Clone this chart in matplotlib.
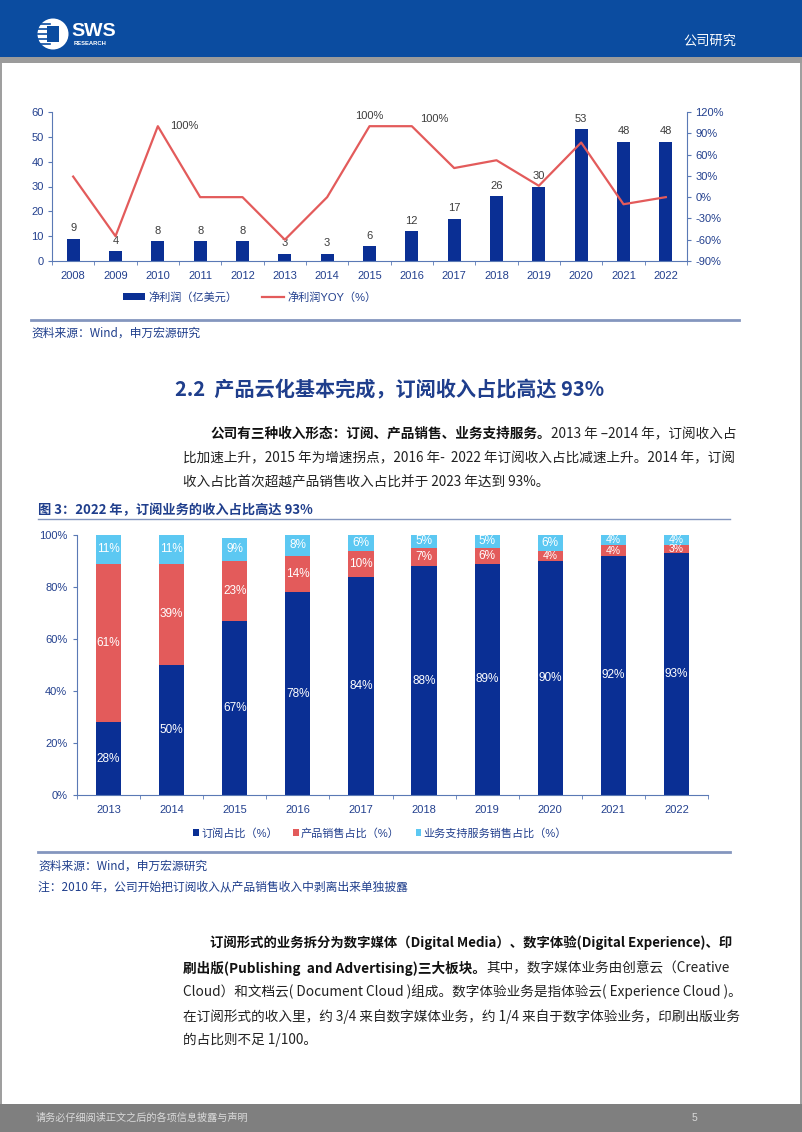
import matplotlib
matplotlib.use("Agg")
import matplotlib.pyplot as plt
from matplotlib.patches import Rectangle, Circle, Patch
from matplotlib.lines import Line2D
import numpy as np

# ---- data ----
years1 = ["2008", "2009", "2010", "2011", "2012", "2013", "2014", "2015",
          "2016", "2017", "2018", "2019", "2020", "2021", "2022"]
net_profit = [9, 4, 8, 8, 8, 3, 3, 6, 12, 17, 26, 30, 53, 48, 48]
profit_yoy = [29, -55, 100, 0, 0, -60, 0, 100, 100, 41, 52, 16, 77, -10, 0]

years2 = ["2013", "2014", "2015", "2016", "2017", "2018", "2019", "2020", "2021", "2022"]
sub_share = [28, 50, 67, 78, 84, 88, 89, 90, 92, 93]
product_share = [61, 39, 23, 14, 10, 7, 6, 4, 4, 3]
service_share = [11, 11, 9, 8, 6, 5, 5, 6, 4, 4]

W, H = 802, 1132
CJK = ["Noto Sans CJK SC", "DejaVu Sans"]
plt.rcParams["font.family"] = ["Liberation Sans", "Noto Sans CJK SC", "DejaVu Sans"]

BLUE = "#0A2F94"
RED = "#E35B5B"
LIGHT = "#5CC8F2"
TICK = "#23408E"
SPINE = "#5A79B5"
HEAD = "#0B4CA0"
TITLE = "#1F3E8C"
TEXT = "#222222"

fig = plt.figure(figsize=(W / 100, H / 100), dpi=100)
bg = fig.add_axes([0, 0, 1, 1], zorder=0)
bg.set_xlim(0, W)
bg.set_ylim(H, 0)
bg.axis("off")
renderer = fig.canvas.get_renderer()

# ---- page frame, header, footer ----
bg.add_patch(Rectangle((0.5, 0.5), W - 1.5, H - 1.5, fc="none", ec="#8C8C8C", lw=1.2))
bg.add_patch(Rectangle((0, 0), W, 57, fc=HEAD, ec="none"))
bg.add_patch(Rectangle((0, 57), W, 6, fc="#9B9B9B", ec="none"))
bg.add_patch(Rectangle((0, 1104), W, H - 1104, fc="#7F7F7F", ec="none"))

# logo
bg.add_patch(Circle((53, 34), 15.5, fc="white", ec="none"))
bg.add_patch(Rectangle((47, 26), 12, 16, fc=HEAD, ec="none"))
for yy in (24, 29, 34, 39, 44):
    bg.plot([38, 50], [yy, yy], color=HEAD, lw=1.2)
bg.text(71, 31, "SWS", color="white", fontsize=14, fontweight="bold", va="center", ha="left")
bg.text(74, 43.5, "RESEARCH", color="white", fontsize=4.2, fontweight="bold", va="center", ha="left")
bg.text(736, 41, "公司研究", color="white", fontsize=9.5, va="center", ha="right", family=CJK)

bg.text(36, 1118, "请务必仔细阅读正文之后的各项信息披露与声明", color="#DADADA", fontsize=7.3,
        va="center", ha="left", family=CJK)
bg.text(694, 1118, "5", color="#DADADA", fontsize=7.5, va="center", ha="center")


def runs(x, y, parts, size=9.8):
    for s, bold in parts:
        t = bg.text(x, y, s, fontsize=size, fontweight="bold" if bold else "normal",
                    va="center", ha="left", family=CJK, color="#111111" if bold else TEXT)
        x += t.get_window_extent(renderer).width


# ---- chart 1: net profit ----
ax1 = fig.add_axes([52 / W, 1 - 261 / H, 635 / W, 149 / H], zorder=2)
ax1.patch.set_alpha(0)
x1 = np.arange(len(years1))
ax1.bar(x1, net_profit, width=0.3, color=BLUE, zorder=2)
for i, v in enumerate(net_profit):
    ax1.annotate(str(v), (i, v), xytext=(0, 4), textcoords="offset points",
                 ha="center", va="bottom", fontsize=8, color="#3C3C3C")
ax1.set_xlim(-0.5, len(years1) - 0.5)
ax1.set_ylim(0, 60)
ax1.set_yticks(range(0, 61, 10))
ax1.set_xticks(x1)
ax1.set_xticklabels(years1)
ax1.set_xticks(np.arange(-0.5, len(years1), 1), minor=True)
ax1.tick_params(axis="x", which="major", length=0, pad=7, labelsize=8, labelcolor=TICK)
ax1.tick_params(axis="x", which="minor", length=3, color=SPINE, direction="out")
ax1.tick_params(axis="y", length=3, color=SPINE, labelsize=8, labelcolor=TICK, pad=3)
for s in ("top", "right"):
    ax1.spines[s].set_visible(False)
for s in ("left", "bottom"):
    ax1.spines[s].set_color(SPINE)

ax2 = ax1.twinx()
ax2.plot(x1, profit_yoy, color=RED, lw=1.6, zorder=3)
ax2.set_ylim(-90, 120)
ax2.set_yticks(range(-90, 121, 30))
ax2.set_yticklabels([f"{v}%" for v in range(-90, 121, 30)])
ax2.tick_params(axis="y", length=3, color=SPINE, labelsize=8, labelcolor=TICK, pad=3)
for s in ("top", "left", "bottom"):
    ax2.spines[s].set_visible(False)
ax2.spines["right"].set_color(SPINE)
ax2.annotate(f"{profit_yoy[2]}%", (2, profit_yoy[2]), xytext=(9, 0), textcoords="offset points",
             ha="left", va="center", fontsize=8, color="#3C3C3C")
ax2.annotate(f"{profit_yoy[7]}%", (7, profit_yoy[7]), xytext=(0, 7), textcoords="offset points",
             ha="center", va="center", fontsize=8, color="#3C3C3C")
ax2.annotate(f"{profit_yoy[8]}%", (8, profit_yoy[8]), xytext=(6, 5), textcoords="offset points",
             ha="left", va="center", fontsize=8, color="#3C3C3C")

fig.legend(handles=[Patch(fc=BLUE, ec="none"), Line2D([], [], color=RED, lw=1.6)],
           labels=["净利润（亿美元）", "净利润YOY（%）"], loc="center",
           bbox_to_anchor=(250 / W, 1 - 297 / H), ncol=2, frameon=False, fontsize=8,
           handlelength=2.0, handleheight=0.5, columnspacing=2.2, handletextpad=0.3,
           labelcolor=TICK)

bg.plot([31, 739], [320, 320], color="#8496BE", lw=2)
bg.text(31, 333, "资料来源：Wind，申万宏源研究", fontsize=8.5, color=TITLE, va="center",
        ha="left", family=CJK)

# ---- section text ----
bg.text(390, 390, "2.2  产品云化基本完成，订阅收入占比高达 93%", fontsize=14.5, fontweight="bold",
        color=TITLE, va="center", ha="center", family=CJK)
runs(210, 434, [("公司有三种收入形态：订阅、产品销售、业务支持服务。", True),
                ("2013 年 –2014 年，订阅收入占", False)])
runs(183, 458, [("比加速上升，2015 年为增速拐点，2016 年-  2022 年订阅收入占比减速上升。2014 年，订阅", False)])
runs(183, 482, [("收入占比首次超越产品销售收入占比并于 2023 年达到 93%。", False)])

# ---- chart 2: revenue mix ----
bg.text(38, 510, "图 3：2022 年，订阅业务的收入占比高达 93%", fontsize=9.5, fontweight="bold",
        color=TITLE, va="center", ha="left", family=CJK)
bg.plot([38, 730], [519, 519], color="#8496BE", lw=1)

ax3 = fig.add_axes([77 / W, 1 - 795 / H, 631 / W, 260 / H], zorder=2)
ax3.patch.set_alpha(0)
x2 = np.arange(len(years2))
sub = np.array(sub_share)
prod = np.array(product_share)
serv = np.array(service_share)
ax3.bar(x2, sub, width=0.4, color=BLUE)
ax3.bar(x2, prod, width=0.4, bottom=sub, color=RED)
ax3.bar(x2, serv, width=0.4, bottom=sub + prod, color=LIGHT)


def seg_size(v):
    return 8.5 if v >= 5 else 7.5


for i in range(len(years2)):
    ax3.text(i, sub[i] / 2, f"{sub[i]}%", ha="center", va="center", fontsize=8.5, color="white")
    ax3.text(i, sub[i] + prod[i] / 2, f"{prod[i]}%", ha="center", va="center",
             fontsize=seg_size(prod[i]), color="white")
    ax3.text(i, sub[i] + prod[i] + serv[i] / 2, f"{serv[i]}%", ha="center", va="center",
             fontsize=seg_size(serv[i]), color="white")
ax3.set_xlim(-0.5, len(years2) - 0.5)
ax3.set_ylim(0, 100)
ax3.set_yticks(range(0, 101, 20))
ax3.set_yticklabels([f"{v}%" for v in range(0, 101, 20)])
ax3.set_xticks(x2)
ax3.set_xticklabels(years2)
ax3.set_xticks(np.arange(-0.5, len(years2), 1), minor=True)
ax3.tick_params(axis="x", which="major", length=0, pad=7, labelsize=8, labelcolor=TICK)
ax3.tick_params(axis="x", which="minor", length=3, color=SPINE, direction="out")
ax3.tick_params(axis="y", length=3, color=SPINE, labelsize=8, labelcolor=TICK, pad=4)
for s in ("top", "right"):
    ax3.spines[s].set_visible(False)
for s in ("left", "bottom"):
    ax3.spines[s].set_color(SPINE)

fig.legend(handles=[Patch(fc=BLUE), Patch(fc=RED), Patch(fc=LIGHT)],
           labels=["订阅占比（%）", "产品销售占比（%）", "业务支持服务销售占比（%）"], loc="center",
           bbox_to_anchor=(380 / W, 1 - 833 / H), ncol=3, frameon=False, fontsize=8,
           handlelength=0.5, handleheight=0.5, columnspacing=1.4, handletextpad=0.2,
           labelcolor=TICK)

bg.plot([38, 730], [852, 852], color="#8496BE", lw=2)
bg.text(38, 866, "资料来源：Wind，申万宏源研究", fontsize=8.5, color=TITLE, va="center",
        ha="left", family=CJK)
bg.text(38, 887, "注：2010 年，公司开始把订阅收入从产品销售收入中剥离出来单独披露", fontsize=8.5,
        color=TITLE, va="center", ha="left", family=CJK)

# ---- second paragraph ----
runs(210, 943, [("订阅形式的业务拆分为数字媒体（Digital Media）、数字体验(Digital Experience)、印", True)],
     size=9.6)
runs(183, 968, [("刷出版(Publishing  and Advertising)三大板块。", True),
                ("其中，数字媒体业务由创意云（Creative", False)])
runs(183, 992, [("Cloud）和文档云( Document Cloud )组成。数字体验业务是指体验云( Experience Cloud )。", False)])
runs(183, 1017, [("在订阅形式的收入里，约 3/4 来自数字媒体业务，约 1/4 来自于数字体验业务，印刷出版业务", False)])
runs(183, 1040, [("的占比则不足 1/100。", False)])

fig.savefig("out.png", dpi=100)
